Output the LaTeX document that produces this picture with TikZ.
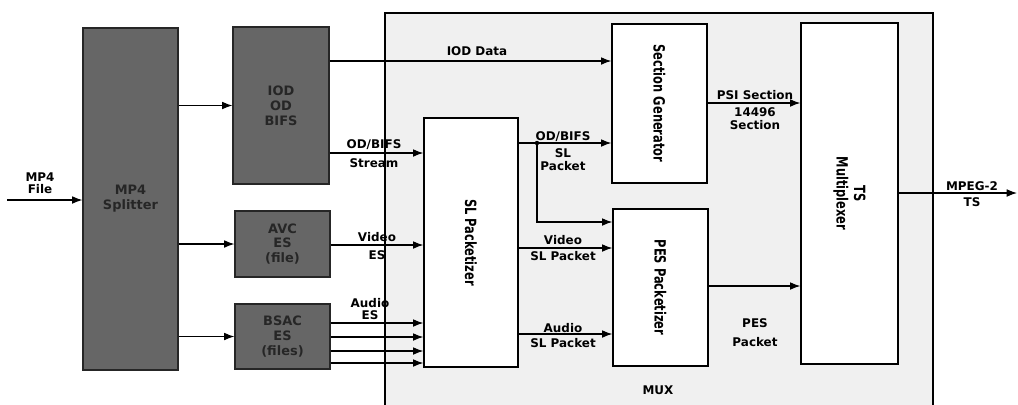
\documentclass[tikz,border=0pt]{standalone}
\usepackage{fontspec}
\setmainfont{DejaVu Sans}
\usetikzlibrary{arrows.meta,calc}
\tikzset{
  darkbox/.style={draw=black!85,line width=1.2bp,fill=black!60,text=black!85,inner sep=0pt,align=center,font=\fontsize{13}{15}\selectfont\bfseries},
  whitebox/.style={draw=black,line width=1.3bp,fill=white,inner sep=0pt},
  vlbl/.style={rotate=-90,yscale=1.35,font=\fontsize{11.5}{13}\selectfont\bfseries},
  lbl/.style={inner sep=0pt,align=center,font=\fontsize{12}{12.5}\selectfont\bfseries},
  arr/.style={line width=1.1bp,-{Latex[scale=1.3]}},
  ln/.style={line width=1.1bp}
}
\begin{document}
\begin{tikzpicture}[x=1bp,y=-1bp]
\useasboundingbox (0,0) rectangle (1018,404);
% MUX area
\fill[black!6] (385,13) rectangle (933,410);
\draw[line width=1.3bp] (385,410) -- (385,13) -- (933,13) -- (933,410);
% dark boxes
\node[darkbox,minimum width=95bp,minimum height=342bp] (split) at (130.5,199) {MP4\\Splitter};
\node[darkbox,minimum width=96bp,minimum height=157bp] (iod) at (281,105.5) {IOD\\OD\\BIFS};
\node[darkbox,minimum width=95bp,minimum height=66bp] (avc) at (282.5,244) {AVC\\ES\\(file)};
\node[darkbox,minimum width=95bp,minimum height=65bp] (bsac) at (282.5,336.5) {BSAC\\ES\\(files)};
% white boxes
\node[whitebox,minimum width=94bp,minimum height=249bp] (slp) at (471,242.5) {};
\node[vlbl] at (slp) {SL Packetizer};
\node[whitebox,minimum width=95bp,minimum height=159bp] (sec) at (659.5,103.5) {};
\node[vlbl] at (sec) {Section Generator};
\node[whitebox,minimum width=95bp,minimum height=157bp] (pes) at (660.5,287.5) {};
\node[vlbl] at (pes) {PES Packetizer};
\node[whitebox,minimum width=97bp,minimum height=341bp] (tsm) at (849.5,193.5) {};
\node[vlbl,align=center] at (tsm) {TS\\Multiplexer};
% level coordinates
\coordinate (in) at (7,200);
\coordinate (out) at (1017,193);
\coordinate (yIOD) at (0,61);
\coordinate (yODS) at (0,153);
\coordinate (yV) at (0,245);
\coordinate (yA1) at (0,323);
\coordinate (yA2) at (0,337);
\coordinate (yA3) at (0,351);
\coordinate (yA4) at (0,363);
\coordinate (ySL) at (0,143);
\coordinate (yBr) at (0,222);
\coordinate (yVS) at (0,248);
\coordinate (yAS) at (0,334);
\coordinate (yPSI) at (0,103);
\coordinate (yPES) at (0,286);
\coordinate (dot) at (537,143);
% connectors
\draw[arr] (in) -- (split.west |- in);
\draw[arr] (split.east |- iod.center) -- (iod.west);
\draw[arr] (split.east |- avc.center) -- (avc.west);
\draw[arr] (split.east |- bsac.center) -- (bsac.west);
\draw[arr] (iod.east |- yIOD) -- (sec.west |- yIOD);
\draw[arr] (iod.east |- yODS) -- (slp.west |- yODS);
\draw[arr] (avc.east |- yV) -- (slp.west |- yV);
\draw[arr] (bsac.east |- yA1) -- (slp.west |- yA1);
\draw[arr] (bsac.east |- yA2) -- (slp.west |- yA2);
\draw[arr] (bsac.east |- yA3) -- (slp.west |- yA3);
\draw[arr] (bsac.east |- yA4) -- (slp.west |- yA4);
\draw[arr] (slp.east |- ySL) -- (sec.west |- ySL);
\fill (dot) circle (2.2bp);
\draw[arr] (dot) |- (pes.west |- yBr);
\draw[arr] (slp.east |- yVS) -- (pes.west |- yVS);
\draw[arr] (slp.east |- yAS) -- (pes.west |- yAS);
\draw[arr] (sec.east |- yPSI) -- (tsm.west |- yPSI);
\draw[arr] (pes.east |- yPES) -- (tsm.west |- yPES);
\draw[arr] (tsm.east |- out) -- (out);
% labels
\node[lbl] at (40,183) {MP4\\File};
\node[lbl] at (374,153.5) {OD/BIFS\\[6bp]Stream};
\node[lbl] at (377,246) {Video\\[5bp]ES};
\node[lbl] at (370,309) {Audio\\ES};
\node[lbl] at (477,51) {IOD Data};
\node[lbl] at (563,151) {OD/BIFS\\[5bp]SL\\Packet};
\node[lbl] at (563,248) {Video\\[3bp]SL Packet};
\node[lbl] at (563,335.5) {Audio\\[2bp]SL Packet};
\node[lbl] at (755,110) {PSI Section\\[5bp]14496\\Section};
\node[lbl] at (755,332.5) {PES\\[6bp]Packet};
\node[lbl] at (972,194) {MPEG-2\\[3bp]TS};
\node[lbl] at (658,390) {MUX};
\end{tikzpicture}
\end{document}
